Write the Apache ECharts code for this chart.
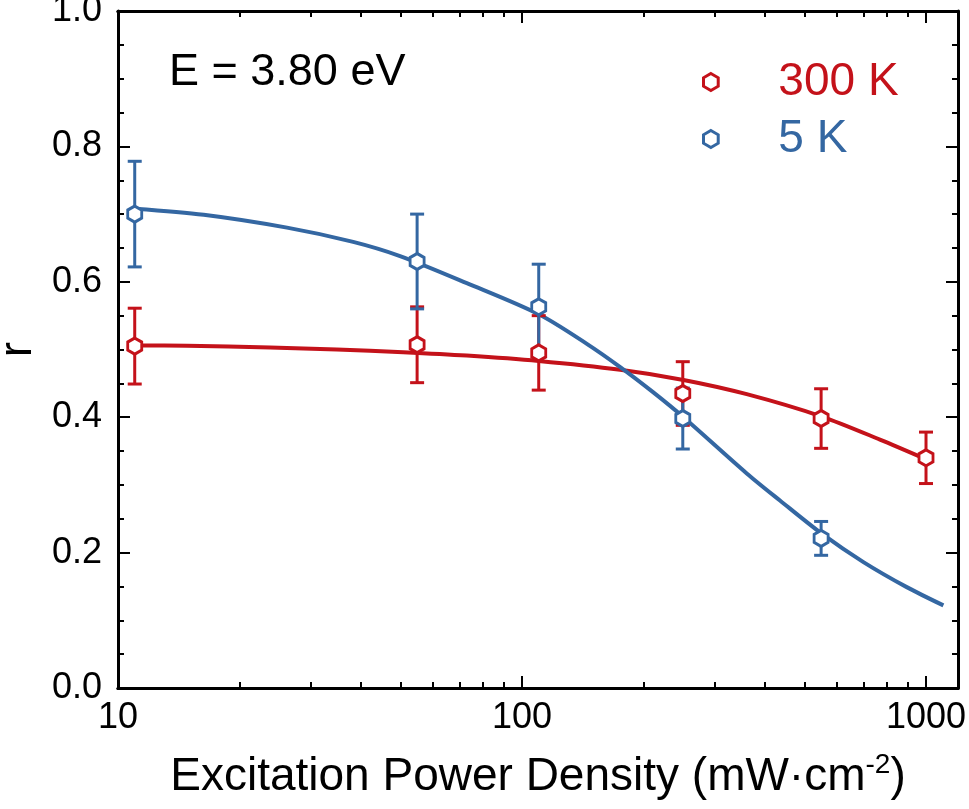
<!DOCTYPE html>
<html>
<head>
<meta charset="utf-8">
<script src="https://cdn.jsdelivr.net/npm/echarts@6/dist/echarts.min.js"></script>
<style>
  html, body { margin: 0; padding: 0; background: #fff; }
  #chart { width: 969px; height: 809px; }
</style>
</head>
<body>
<div id="chart"></div>
<script>
// Measured anisotropy r versus excitation power density
const powerDensity = [11, 55, 110, 250, 550, 1000];
const r300K = [0.505, 0.507, 0.495, 0.435, 0.398, 0.340];
const err300K = [0.056, 0.056, 0.055, 0.047, 0.044, 0.038];

const powerDensity5K = [11, 55, 110, 250, 550];
const r5K = [0.700, 0.630, 0.563, 0.398, 0.221];
const err5K = [0.078, 0.070, 0.063, 0.045, 0.025];

// Fitted curves
const fit300KX = [11, 14.8, 23.8, 34.8, 50.8, 73, 110, 175, 251, 360, 552, 769, 1000];
const fit300KY = [0.506, 0.5055, 0.503, 0.500, 0.496, 0.491, 0.483, 0.470, 0.455, 0.434, 0.401, 0.367, 0.338];
const fit5KX = [11, 16.3, 26.2, 38.2, 49.9, 73, 110, 145, 175, 211, 251, 360, 435, 552, 700, 896, 1104];
const fit5KY = [0.708, 0.699, 0.680, 0.659, 0.638, 0.598, 0.552, 0.508, 0.474, 0.437, 0.400, 0.317, 0.277, 0.228, 0.186, 0.149, 0.122];

// Axis tick values
const xMajorTicks = [10, 100, 1000];
const xMinorTicks = [20, 30, 40, 50, 60, 70, 80, 90, 200, 300, 400, 500, 600, 700, 800, 900];

const RED = '#C4121A';
const BLUE = '#3467A2';
const FONT = 'Liberation Sans, Arial, sans-serif';

const hexagon = 'path://M8.66,0 L17.32,5 L17.32,15 L8.66,20 L0,15 L0,5 Z';

function pairs(xs, ys) {
  return xs.map((x, i) => [x, ys[i]]);
}

function errorBars(name, xs, ys, es, color) {
  return {
    type: 'custom',
    name: name,
    xAxisIndex: 0,
    yAxisIndex: 0,
    z: 3,
    silent: true,
    data: xs.map((x, i) => [x, ys[i] - es[i], ys[i] + es[i]]),
    renderItem: function (params, api) {
      const x = api.value(0);
      const lo = api.coord([x, api.value(1)]);
      const hi = api.coord([x, api.value(2)]);
      const w = 7;
      const style = { stroke: color, lineWidth: 3, fill: null };
      return {
        type: 'group',
        children: [
          { type: 'line', shape: { x1: lo[0], y1: lo[1], x2: hi[0], y2: hi[1] }, style: style },
          { type: 'line', shape: { x1: lo[0] - w, y1: lo[1], x2: lo[0] + w, y2: lo[1] }, style: style },
          { type: 'line', shape: { x1: hi[0] - w, y1: hi[1], x2: hi[0] + w, y2: hi[1] }, style: style }
        ]
      };
    }
  };
}

const axisLineStyle = { color: '#000', width: 3 };

function xAxisBase(position, showLabels, ticks, len) {
  return {
    type: 'log',
    logBase: 10,
    min: 10,
    max: 1200,
    position: position,
    axisLine: { show: true, lineStyle: axisLineStyle },
    axisTick: { show: true, inside: true, length: len, customValues: ticks, lineStyle: { color: '#000', width: 2 } },
    axisLabel: showLabels ? {
      show: true, customValues: xMajorTicks, margin: 12,
      fontFamily: FONT, fontSize: 36, color: '#000',
      formatter: v => String(Math.round(v))
    } : { show: false },
    splitLine: { show: false }
  };
}

const chart = echarts.init(document.getElementById('chart'), null, { renderer: 'canvas' });

const option = {
  backgroundColor: '#fff',
  animation: false,
  title: {
    text: 'E = 3.80 eV',
    left: 169,
    top: 50,
    padding: 0,
    textStyle: { fontFamily: FONT, fontSize: 45, fontWeight: 'normal', color: '#000' }
  },
  legend: {
    orient: 'vertical',
    left: 702,
    top: 59,
    padding: 0,
    itemGap: 11,
    itemWidth: 15,
    itemHeight: 17,
    itemStyle: { borderWidth: 3 },
    data: [
      { name: '300 K', textStyle: { color: RED } },
      { name: '5 K', textStyle: { color: BLUE } }
    ],
    textStyle: { fontFamily: FONT, fontSize: 46, lineHeight: 46, padding: [0, 0, 0, 55] }
  },
  grid: { left: 118, right: 11, top: 11, bottom: 121, containLabel: false, outerBoundsMode: 'none' },
  xAxis: [
    Object.assign(xAxisBase('bottom', true, xMajorTicks, 12), {
      name: '{a|Excitation Power Density (mW·cm}{s|-2}{a|)}',
      nameLocation: 'middle',
      nameGap: 63,
      nameTextStyle: {
        rich: {
          a: { fontFamily: FONT, fontSize: 46, color: '#000' },
          s: { fontFamily: FONT, fontSize: 28, color: '#000', padding: [0, 0, 24, 0] }
        }
      }
    }),
    xAxisBase('bottom', false, xMinorTicks, 6),
    xAxisBase('top', false, xMajorTicks, 12),
    xAxisBase('top', false, xMinorTicks, 6)
  ],
  yAxis: [
    {
      type: 'value', min: 0, max: 1, interval: 0.2, position: 'left',
      name: 'r', nameLocation: 'middle', nameGap: 70, nameRotate: 90,
      nameTextStyle: { fontFamily: FONT, fontSize: 46, color: '#000' },
      axisLine: { show: true, lineStyle: axisLineStyle },
      axisTick: { show: true, inside: true, length: 12, lineStyle: { color: '#000', width: 2 } },
      minorTick: { show: true, splitNumber: 4, length: 6, lineStyle: { color: '#000', width: 2 } },
      axisLabel: {
        margin: 16, fontFamily: FONT, fontSize: 36, color: '#000',
        formatter: v => v.toFixed(1)
      },
      splitLine: { show: false },
      minorSplitLine: { show: false }
    },
    {
      type: 'value', min: 0, max: 1, interval: 0.2, position: 'right',
      axisLine: { show: true, lineStyle: axisLineStyle },
      axisTick: { show: true, inside: true, length: 12, lineStyle: { color: '#000', width: 2 } },
      minorTick: { show: true, splitNumber: 4, length: 6, lineStyle: { color: '#000', width: 2 } },
      axisLabel: { show: false },
      splitLine: { show: false },
      minorSplitLine: { show: false }
    }
  ],
  series: [
    {
      name: '300 K fit', type: 'line', xAxisIndex: 0, yAxisIndex: 0, z: 2,
      data: pairs(fit300KX, fit300KY), showSymbol: false, symbol: 'none',
      smooth: 0.3,
      lineStyle: { color: RED, width: 4 }
    },
    {
      name: '5 K fit', type: 'line', xAxisIndex: 0, yAxisIndex: 0, z: 2,
      data: pairs(fit5KX, fit5KY), showSymbol: false, symbol: 'none',
      smooth: 0.3,
      lineStyle: { color: BLUE, width: 4 }
    },
    errorBars('300 K error', powerDensity, r300K, err300K, RED),
    errorBars('5 K error', powerDensity5K, r5K, err5K, BLUE),
    {
      name: '300 K', type: 'scatter', xAxisIndex: 0, yAxisIndex: 0, z: 4,
      data: pairs(powerDensity, r300K),
      symbol: hexagon, symbolSize: [14, 16],
      itemStyle: { color: '#fff', borderColor: RED, borderWidth: 3, opacity: 1 }
    },
    {
      name: '5 K', type: 'scatter', xAxisIndex: 0, yAxisIndex: 0, z: 4,
      data: pairs(powerDensity5K, r5K),
      symbol: hexagon, symbolSize: [14, 16],
      itemStyle: { color: '#fff', borderColor: BLUE, borderWidth: 3, opacity: 1 }
    }
  ]
};

chart.setOption(option);
</script>
</body>
</html>
